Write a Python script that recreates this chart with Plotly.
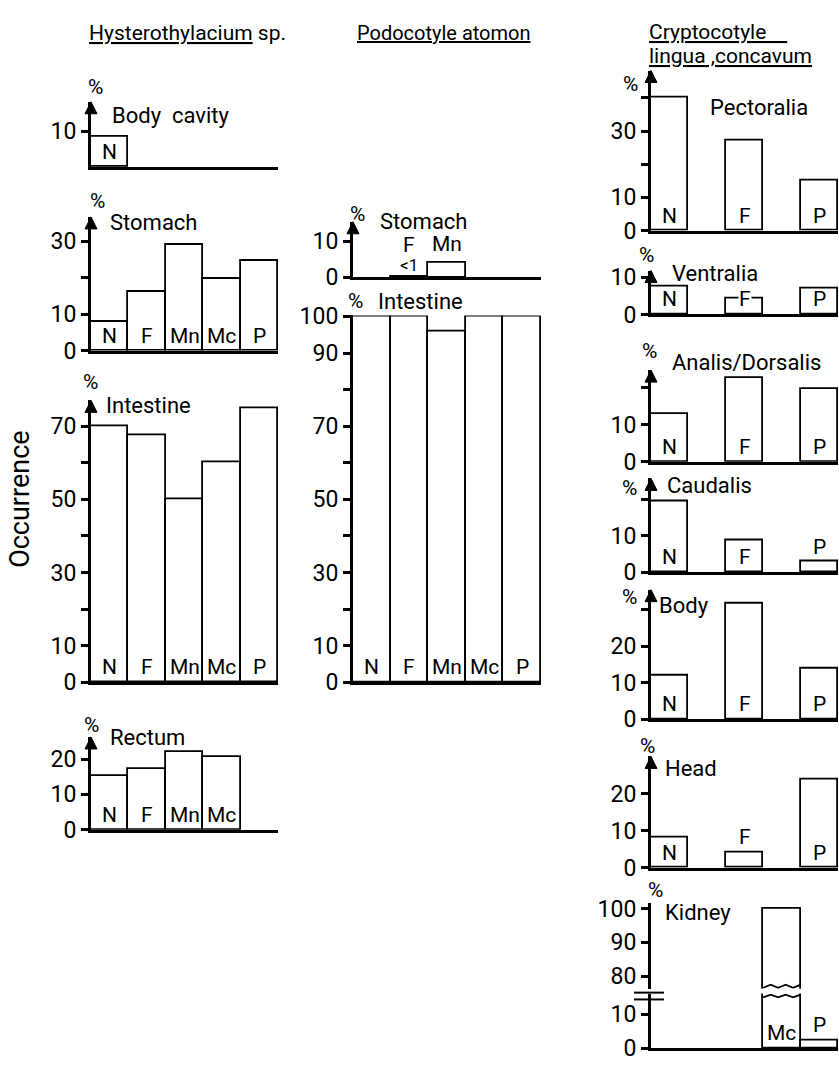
import plotly.graph_objects as go

W, H = 839, 1072
FONT = "Roboto"

# ---------------- data ----------------
slots = ["N", "F", "Mn", "Mc", "P"]

hys_body_cavity = [8.4, None, None, None, None]
hys_stomach = [7.8, 16.1, 29.0, 19.8, 24.7]
hys_intestine = [70.0, 67.5, 50.0, 60.0, 75.0]
hys_rectum = [15.3, 17.3, 21.9, 20.5, None]

pod_stomach = [None, 0.3, 4.0, None, None]
pod_intestine = [100.0, 100.0, 96.0, 100.0, 100.0]

cry_cats = ["N", "F", "P"]
cry_pectoralia = [40.0, 27.0, 15.0]
cry_ventralia = [7.6, 4.2, 7.1]
cry_analis_dorsalis = [12.9, 22.6, 19.5]
cry_caudalis = [19.5, 8.8, 2.9]
cry_body = [12.0, 31.7, 13.9]
cry_head = [8.2, 4.2, 23.7]
kidney_cats = ["Mc", "P"]
cry_kidney = [100.0, 2.3]

# ---------------- helpers ----------------
def X(px):
    return px / W

def Y(py):
    return 1 - py / H

left_pos = {c: i for i, c in enumerate(slots)}
right_pos = {"N": 0, "F": 2, "Mn": 2, "Mc": 3, "P": 4}

fig = go.Figure()
layout = {}
annotations = []
shapes = []

TICKFONT = dict(family=FONT, size=23, color="black")
LABFONT = dict(family=FONT, size=21, color="black")
TITFONT = dict(family=FONT, size=22, color="black")


def add_panel(k, xdom, cats, vals, pos, ticks, ticktext, zero_px=None, scale=None,
              top_px=None, arrow=True, showx=True, yrange=None, ydom=None):
    xr, yr = f"x{k}", f"y{k}"
    if yrange is None:
        yrange = [0, (zero_px - top_px) / scale]
        ydom = [Y(zero_px), Y(top_px)]
    layout[f"xaxis{k}"] = dict(domain=[X(xdom[0]), X(xdom[1])], range=[0, 5], anchor=yr,
                               showline=showx, linewidth=3, linecolor="black",
                               showticklabels=False, ticks="", showgrid=False,
                               zeroline=False, fixedrange=True)
    layout[f"yaxis{k}"] = dict(domain=ydom, range=yrange, anchor=xr, showline=True,
                               linewidth=3, linecolor="black", ticks="outside",
                               ticklen=7, tickwidth=2.5, tickcolor="black",
                               tickvals=ticks, ticktext=ticktext, tickfont=TICKFONT,
                               showgrid=False, zeroline=False, fixedrange=True)
    xs = [pos[c] + 0.5 for c in cats]
    fig.add_trace(go.Bar(x=xs, y=vals, width=1, xaxis=xr, yaxis=yr,
                         marker=dict(color="white", line=dict(color="black", width=1.8)),
                         showlegend=False, hoverinfo="skip", cliponaxis=True))
    if arrow:
        fig.add_trace(go.Scatter(x=[0], y=[yrange[1]], xaxis=xr, yaxis=yr, mode="markers",
                                 marker=dict(symbol="arrow-up", size=12, color="black",
                                             line=dict(color="black", width=1)),
                                 cliponaxis=False, showlegend=False, hoverinfo="skip"))
    return yrange


def bar_labels(k, cats, vals, pos, modes=None):
    modes = modes or {}
    for c, v in zip(cats, vals):
        if v is None:
            continue
        m = modes.get(c, "in")
        x = pos[c] + 0.5
        base = dict(x=x, xref=f"x{k}", yref=f"y{k}", text=c, showarrow=False, font=LABFONT)
        if m == "in":
            base.update(y=0, yanchor="bottom", yshift=1)
        elif m == "above":
            base.update(y=v, yanchor="bottom", yshift=1)
        elif m == "edge":
            base.update(y=v, yanchor="middle", bgcolor="white", borderpad=0)
        annotations.append(base)


def text(px, py, s, font=TITFONT, anchor="left", **kw):
    annotations.append(dict(x=X(px), y=Y(py), xref="paper", yref="paper", text=s,
                            showarrow=False, xanchor=anchor, yanchor="middle", font=font, **kw))


PCTFONT = dict(family=FONT, size=21, color="black")


def panel_title(pct_xy, title, title_xy):
    text(pct_xy[0], pct_xy[1], "%", font=PCTFONT, anchor="center")
    text(title_xy[0], title_xy[1], title)


LX = (91, 278)
MX = (353, 541)
RX = (651, 838)

# ---------- Hysterothylacium ----------
add_panel(1, LX, slots, hys_body_cavity, left_pos, [10], ["10"], 159, 3.7, 92)
bar_labels(1, slots, hys_body_cavity, left_pos)
panel_title((95, 77), "Body\u00a0 cavity", (110, 106))

add_panel(2, LX, slots, hys_stomach, left_pos, [0, 10, 20, 30], ["0", "10", "", "30"], 347, 3.73, 210)
bar_labels(2, slots, hys_stomach, left_pos)
panel_title((97, 194), "Stomach", (108, 216))

add_panel(3, LX, slots, hys_intestine, left_pos, list(range(0, 71, 10)),
          ["0", "10", "", "30", "", "50", "", "70"], 687, 3.75, 398)
bar_labels(3, slots, hys_intestine, left_pos)
panel_title((90, 379), "Intestine", (104, 403))

add_panel(4, LX, slots, hys_rectum, left_pos, [0, 10, 20], ["0", "10", "20"], 838, 3.62, 743)
bar_labels(4, slots, hys_rectum, left_pos)
panel_title((91, 731), "Rectum", (108, 744))

# ---------- Podocotyle ----------
add_panel(5, MX, slots, pod_stomach, left_pos, [0, 10], ["0", "10"], 272, 3.7, 215)
panel_title((357, 207), "Stomach", (378, 215))
fx = left_pos["F"] + 0.5
annotations.append(dict(x=fx, y=pod_stomach[1], xref="x5", yref="y5", text="<1", showarrow=False,
                        yanchor="bottom", yshift=-1, font=dict(family=FONT, size=17, color="black")))
annotations.append(dict(x=fx, y=pod_stomach[1], xref="x5", yref="y5", text="F", showarrow=False,
                        yanchor="bottom", yshift=17, font=LABFONT))
mx = left_pos["Mn"] + 0.5
annotations.append(dict(x=mx, y=pod_stomach[2], xref="x5", yref="y5", text="Mn", showarrow=False,
                        yanchor="bottom", yshift=5, font=LABFONT))

add_panel(6, MX, slots, pod_intestine, left_pos, list(range(0, 101, 10)),
          ["0", "10", "", "30", "", "50", "", "70", "", "90", "100"], 687, 3.75, 311, arrow=False)
bar_labels(6, slots, pod_intestine, left_pos)
panel_title((355, 296), "Intestine", (376, 297))

# ---------- Cryptocotyle ----------
add_panel(7, RX, cry_cats, cry_pectoralia, right_pos, [0, 10, 20, 30, 40], ["0", "10", "", "30", ""], 224, 3.4, 60)
bar_labels(7, cry_cats, cry_pectoralia, right_pos)
panel_title((630, 74), "Pectoralia", (708, 98))

add_panel(8, RX, cry_cats, cry_ventralia, right_pos, [0, 10], ["0", "10"], 310, 3.8, 265)
bar_labels(8, cry_cats, cry_ventralia, right_pos, {"F": "edge"})
panel_title((646, 249), "Ventralia", (670, 268))

add_panel(9, RX, cry_cats, cry_analis_dorsalis, right_pos, [0, 10, 20], ["0", "10", ""], 461, 3.8, 367)
bar_labels(9, cry_cats, cry_analis_dorsalis, right_pos)
panel_title((649, 347), "Analis/Dorsalis", (670, 359))

add_panel(10, RX, cry_cats, cry_caudalis, right_pos, [0, 10, 20], ["0", "10", ""], 574, 3.7, 478)
bar_labels(10, cry_cats, cry_caudalis, right_pos, {"P": "above"})
panel_title((629, 488), "Caudalis", (665, 485))

add_panel(11, RX, cry_cats, cry_body, right_pos, [0, 10, 20, 30], ["0", "10", "20", ""], 725, 3.75, 592)
bar_labels(11, cry_cats, cry_body, right_pos)
panel_title((629, 600), "Body", (657, 608))

add_panel(12, RX, cry_cats, cry_head, right_pos, [0, 10, 20], ["0", "10", "20"], 877, 3.8, 763)
bar_labels(12, cry_cats, cry_head, right_pos, {"F": "above"})
panel_title((647, 752), "Head", (663, 775))

# Kidney: broken axis (lower and upper parts)
low = add_panel(13, RX, kidney_cats, cry_kidney, right_pos, [0, 10], ["0", "10"], 1062, 3.5, 1006, arrow=False)
bar_labels(13, kidney_cats, cry_kidney, right_pos, {"P": "above"})
up_range = [80 - (1001 - 988) / 3.45, 80 + (988 - 913) / 3.45]
up = add_panel(14, RX, kidney_cats, cry_kidney, right_pos, [80, 90, 100], ["80", "90", "100"],
               arrow=False, showx=False, yrange=up_range, ydom=[Y(1001), Y(913)])
panel_title((655, 900), "Kidney", (663, 923))

# zigzag break lines across the Mc bar
mc0 = right_pos["Mc"]
zx = [mc0 + t / 5 for t in range(6)]
zy_up = [up[0] + 0.3 + (0.9 if i % 2 else 0) for i in range(6)]
zy_low = [low[1] - 1.1 + (0.8 if i % 2 else 0) for i in range(6)]
fig.add_trace(go.Scatter(x=zx, y=zy_up, xaxis="x14", yaxis="y14", mode="lines",
                         line=dict(color="black", width=1.8), cliponaxis=False,
                         showlegend=False, hoverinfo="skip"))
fig.add_trace(go.Scatter(x=zx, y=zy_low, xaxis="x13", yaxis="y13", mode="lines",
                         line=dict(color="black", width=1.8), cliponaxis=False,
                         showlegend=False, hoverinfo="skip"))
for py in (1005, 1012):
    shapes.append(dict(type="line", xref="paper", yref="paper", x0=X(634), x1=X(664),
                       y0=Y(py), y1=Y(py), line=dict(color="black", width=2)))

# ---------- column titles & y label ----------
text(87, 22, "<u>Hysterothylacium</u> sp.", font=dict(family=FONT, size=21, color="black"))
text(355, 22, "<u>Podocotyle atomon</u>", font=dict(family=FONT, size=20, color="black"))
text(647, 20, "<u>Cryptocotyle\u00a0\u00a0\u00a0\u00a0</u>", font=dict(family=FONT, size=21, color="black"))
text(647, 45, "<u>lingua ,concavum</u>", font=dict(family=FONT, size=21, color="black"))
annotations.append(dict(x=X(20), y=Y(500), xref="paper", yref="paper", text="Occurrence",
                        showarrow=False, textangle=-90, xanchor="center", yanchor="middle",
                        font=dict(family=FONT, size=27, color="black")))

fig.update_layout(width=W, height=H, margin=dict(l=0, r=0, t=0, b=0),
                  paper_bgcolor="white", plot_bgcolor="white", showlegend=False,
                  bargap=0, annotations=annotations, shapes=shapes, **layout)

fig.write_html("out.html")
